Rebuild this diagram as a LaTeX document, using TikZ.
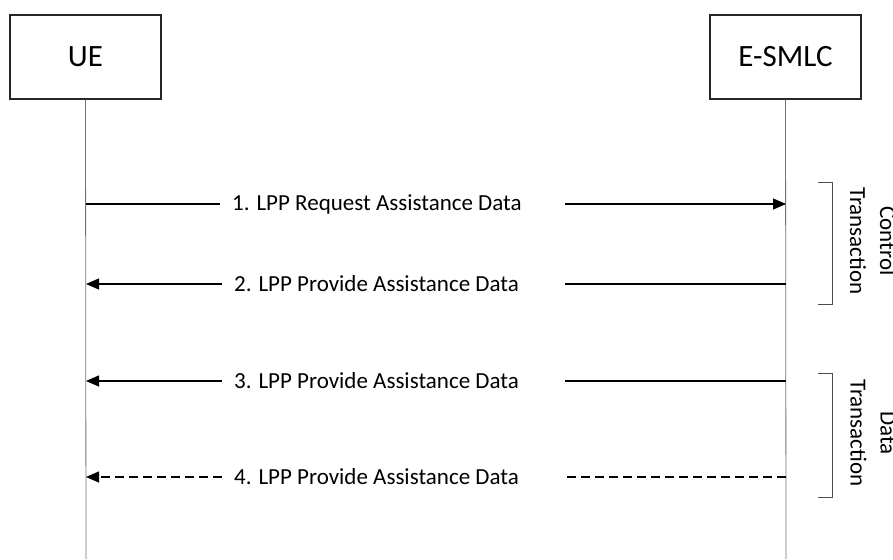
\documentclass[tikz,border=0pt]{standalone}
\usepackage{fontspec}
\setmainfont{Carlito}
\usetikzlibrary{arrows.meta}
\begin{document}
\begin{tikzpicture}[x=1pt,y=-1pt,
  entity/.style={draw=black!85,line width=1.2pt,minimum width=151pt,minimum height=84pt,inner sep=0pt,font=\fontsize{31}{33}\selectfont},
  life/.style={draw=black!55,line width=0.8pt},
  msg/.style={line width=1.1pt,-{Triangle[length=13pt,width=11pt]}},
  seg/.style={line width=1.1pt},
  lbl/.style={inner sep=0pt,font=\fontsize{23}{25}\selectfont},
  brk/.style={draw=black!70,line width=0.9pt},
  btxt/.style={rotate=-90,align=center,inner sep=0pt,font=\fontsize{23}{30}\selectfont}]
\useasboundingbox (0,0) rectangle (893,559);
\node[entity] (ue) at (85.5,57) {UE};
\node[entity] (sm) at (785.5,57) {E-SMLC};
\coordinate (ueb) at (86,559);
\coordinate (smb) at (786,559);
\draw[life] (ue.south) -- (ueb);
\draw[life] (sm.south) -- (smb);
% message 1
\coordinate (a1) at (86,204); \coordinate (b1) at (220,204);
\coordinate (c1) at (565,204); \coordinate (d1) at (786,204);
\node[lbl,anchor=west] (t1) at (232,204) {1. LPP Request Assistance Data};
\draw[seg] (a1) -- (b1);
\draw[msg] (c1) -- (d1);
% message 2
\coordinate (a2) at (86,284); \coordinate (b2) at (222,284);
\coordinate (c2) at (565,284); \coordinate (d2) at (786,284);
\node[lbl,anchor=west] (t2) at (234,284) {2. LPP Provide Assistance Data};
\draw[msg] (b2) -- (a2);
\draw[seg] (d2) -- (c2);
% message 3
\coordinate (a3) at (86,381); \coordinate (b3) at (222,381);
\coordinate (c3) at (565,381); \coordinate (d3) at (786,381);
\node[lbl,anchor=west] (t3) at (234,381) {3. LPP Provide Assistance Data};
\draw[msg] (b3) -- (a3);
\draw[seg] (d3) -- (c3);
% message 4
\coordinate (a4) at (86,477); \coordinate (b4) at (222,477);
\coordinate (c4) at (565,477); \coordinate (d4) at (786,477);
\node[lbl,anchor=west] (t4) at (234,477) {4. LPP Provide Assistance Data};
\draw[msg,dash pattern=on 9pt off 5pt] (b4) -- (a4);
\draw[seg,dash pattern=on 9pt off 5pt] (d4) -- (c4);
% brackets
\coordinate (k1a) at (818,182); \coordinate (k1b) at (832,182);
\coordinate (k1c) at (832,304); \coordinate (k1d) at (818,304);
\draw[brk] (k1a) -- (k1b) -- (k1c) -- (k1d);
\node[btxt] (x1) at (873,241) {Control\\Transaction};
\coordinate (k2a) at (818,373); \coordinate (k2b) at (832,373);
\coordinate (k2c) at (832,497); \coordinate (k2d) at (818,497);
\draw[brk] (k2a) -- (k2b) -- (k2c) -- (k2d);
\node[btxt] (x2) at (873,433) {Data\\Transaction};
\end{tikzpicture}
\end{document}
